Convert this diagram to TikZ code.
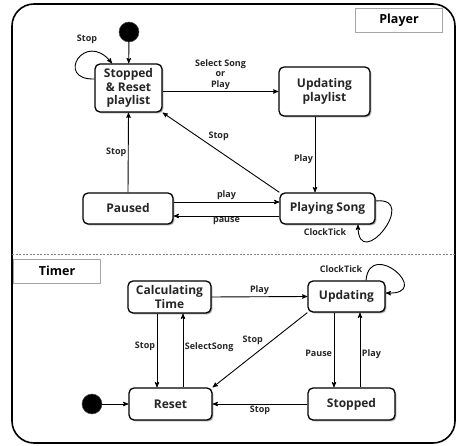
\documentclass[tikz,border=0pt]{standalone}
\usepackage{fontspec}
\setmainfont{Open Sans}
\usetikzlibrary{arrows, shadows}

\begin{document}
\begin{tikzpicture}[x=1pt, y=-1pt, ->, >=stealth', line width=0.9pt,
	stbox/.style={draw, fill=white, line width=1.3pt, rounded corners=5pt, align=center,
		font=\bfseries\fontsize{12}{13.5}\selectfont, text=black!85, inner sep=2pt,
		drop shadow={shadow xshift=1.4pt, shadow yshift=-1.4pt, fill=black, opacity=0.35}},
	lbl/.style={font=\bfseries\fontsize{9}{10.5}\selectfont, text=black!85, inner sep=1.5pt},
	tag/.style={draw=gray!70, line width=0.7pt, font=\bfseries\fontsize{12.5}{14}\selectfont,
		minimum width=87pt, minimum height=24pt},
	startdot/.style={circle, minimum size=20pt, inner sep=0pt, fill=black, draw=black!70, line width=0.5pt}]
	\useasboundingbox (0,0) rectangle (456,446);

	% frame and divider
	\draw[-, line width=1.6pt, rounded corners=22pt] (12,4) rectangle (455,443);
	\draw[-, gray, line width=0.8pt, dash pattern=on 2pt off 1.5pt] (12,254) -- (455,254);
	\node[tag]	(player)	at (399,20)	{Player};
	\node[tag]	(timer)		at (57,271)	{Timer};

	% player states
	\node[startdot]	(init1)	at (129,32)	{};
	\node[stbox, minimum width=67pt, minimum height=48pt]	(stopbox)	at (128.5,88)
		{Stopped\\\& Reset\\playlist};
	\node[stbox, minimum width=91pt, minimum height=49pt]	(updl)	at (324.5,91.5)
		{Updating\\playlist};
	\node[stbox, minimum width=90pt, minimum height=31pt]	(paused)	at (128,208.5)
		{Paused};
	\node[stbox, minimum width=95pt, minimum height=31pt]	(play)	at (327.5,208.5)
		{Playing Song};

	\path	(init1)	edge	(stopbox)
			(stopbox.east |- updl.west)	edge	node[lbl, above, align=center] {Select Song\\or\\Play}	(updl.west)
			([xshift=-9.5pt]updl.south)	edge	node[lbl, left, pos=0.56] {Play}	([xshift=-12.5pt]play.north)
			(play.north west)	edge	node[lbl, pos=0.52, above=8pt] {Stop}	(stopbox.south east)
			(paused.north)	edge	node[lbl, left] {Stop}	(stopbox.south)
			([yshift=6.5pt]paused.east)	edge	node[lbl, above] {play}	([yshift=6.5pt]play.west)
			([yshift=-7.5pt]play.west)	edge	node[lbl, below] {pause}	([yshift=-7.5pt]paused.east);
	\draw	([yshift=9pt]stopbox.west) .. controls +(-40,1) and +(-27,-34) .. ([xshift=-16.5pt]stopbox.north)
			node[lbl] at (87,39) {Stop};
	\draw	([yshift=7.5pt]play.east) .. controls +(45,-5) and +(0,50) .. ([xshift=30.5pt]play.south)
			node[lbl] at (325,232) {ClockTick};

	% timer states
	\node[startdot]	(init2)	at (92,404)	{};
	\node[stbox, minimum width=83pt, minimum height=32pt]	(calc)	at (169.5,297)
		{Calculating\\Time};
	\node[stbox, minimum width=77pt, minimum height=31pt]	(upd)	at (346.5,296.5)
		{Updating};
	\node[stbox, minimum width=83pt, minimum height=32pt]	(reset)	at (170.5,404)
		{Reset};
	\node[stbox, minimum width=87pt, minimum height=32pt]	(stp)	at (351.5,404)
		{Stopped};

	\path	(init2)	edge	(reset)
			([xshift=-12.5pt]calc.south)	edge	node[lbl, left, pos=0.45] {Stop}	([xshift=-13.5pt]reset.north)
			([xshift=12.5pt]reset.north)	edge	node[lbl, right, pos=0.55] {SelectSong}	([xshift=13.5pt]calc.south)
			(calc.east)	edge	node[lbl, above] {Play}	(upd.west)
			(upd.south west)	edge	node[lbl, pos=0.45, above left=0pt] {Stop}	(reset.north east)
			([xshift=-12.5pt]upd.south)	edge	node[lbl, left, pos=0.55] {Pause}	([xshift=-17.5pt]stp.north)
			([xshift=8.5pt]stp.north)	edge	node[lbl, right, pos=0.45] {Play}	([xshift=13.5pt]upd.south)
			(stp.west)	edge	node[lbl, below] {Stop}	(reset.east);
	\draw	([xshift=19.5pt]upd.north) .. controls +(4,-43) and +(49,2) .. ([yshift=3.5pt]upd.east)
			node[lbl] at (341,269) {ClockTick};
\end{tikzpicture}
\end{document}
